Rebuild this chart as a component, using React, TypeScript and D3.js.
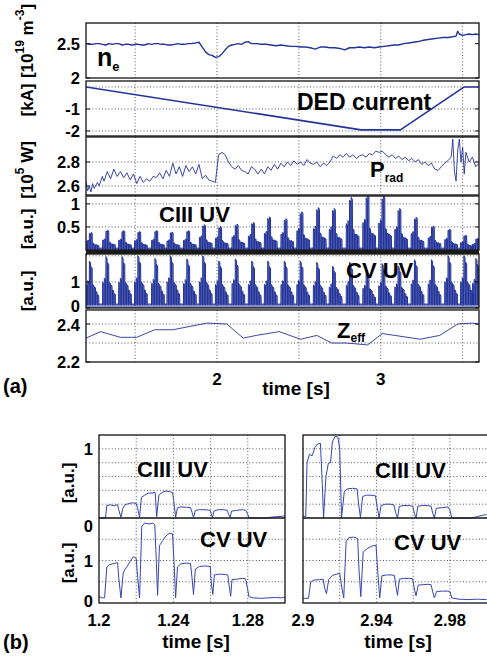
import React from "react"
import * as d3 from "d3"

type Pt = [number, number]

const W = 487
const H = 657
const FONT = "'Liberation Sans', Arial, Helvetica, sans-serif"
const BLUE = "#22339a"
const THIN_BLUE = "#3446b0"
const GRID = "#444"

// ---------- (a) overview 1.2 - 3.6 s
const timeLabels = [2, 3]
const timeGrid = [1.5, 2, 2.5, 3, 3.5]

// line density n_e [10^19 m^-3]
const neData: Pt[] = [
  [1.2, 2.5], [1.22, 2.49], [1.24, 2.49], [1.26, 2.5], [1.28, 2.5], [1.3, 2.49], [1.32, 2.48], [1.34, 2.5],
  [1.36, 2.49], [1.38, 2.5], [1.4, 2.5], [1.42, 2.48], [1.44, 2.49], [1.46, 2.49], [1.48, 2.48], [1.5, 2.49],
  [1.52, 2.49], [1.54, 2.48], [1.56, 2.48], [1.58, 2.5], [1.6, 2.49], [1.62, 2.5], [1.64, 2.5], [1.66, 2.49],
  [1.68, 2.49], [1.7, 2.48], [1.72, 2.48], [1.74, 2.49], [1.76, 2.5], [1.78, 2.49], [1.8, 2.49], [1.82, 2.5],
  [1.84, 2.5], [1.87, 2.51], [1.89, 2.52], [1.91, 2.45], [1.93, 2.38], [1.95, 2.34], [1.97, 2.33], [1.99, 2.3],
  [2.01, 2.31], [2.03, 2.35], [2.05, 2.41], [2.07, 2.46], [2.09, 2.48], [2.11, 2.49], [2.13, 2.5], [2.15, 2.49],
  [2.17, 2.52], [2.19, 2.53], [2.21, 2.5], [2.24, 2.5], [2.27, 2.49], [2.3, 2.49], [2.33, 2.48], [2.36, 2.47],
  [2.39, 2.48], [2.42, 2.47], [2.45, 2.46], [2.48, 2.46], [2.51, 2.45], [2.54, 2.45], [2.57, 2.44], [2.6, 2.42],
  [2.63, 2.45], [2.66, 2.45], [2.69, 2.44], [2.72, 2.44], [2.75, 2.43], [2.78, 2.41], [2.81, 2.44], [2.84, 2.44],
  [2.87, 2.45], [2.9, 2.44], [2.93, 2.45], [2.96, 2.44], [2.99, 2.45], [3.02, 2.46], [3.05, 2.47], [3.08, 2.48],
  [3.11, 2.48], [3.14, 2.5], [3.17, 2.51], [3.2, 2.52], [3.23, 2.53], [3.26, 2.55], [3.29, 2.56], [3.32, 2.57],
  [3.35, 2.58], [3.38, 2.59], [3.41, 2.59], [3.44, 2.6], [3.46, 2.61], [3.47, 2.68], [3.48, 2.64], [3.5, 2.62],
  [3.52, 2.63], [3.54, 2.64], [3.56, 2.63], [3.58, 2.64], [3.6, 2.63],
]

// DED current [kA]
const dedData: Pt[] = [[1.2, 0], [2.88, -1.95], [3.12, -1.95], [3.51, 0], [3.6, 0]]

// radiated power [10^5 W]
const pradData: Pt[] = [
  [1.2, 2.64], [1.21, 2.56], [1.22, 2.6], [1.23, 2.55], [1.24, 2.62], [1.25, 2.58], [1.27, 2.63], [1.28, 2.6],
  [1.3, 2.68], [1.31, 2.64], [1.33, 2.72], [1.35, 2.66], [1.37, 2.74], [1.39, 2.68], [1.41, 2.72], [1.43, 2.67],
  [1.45, 2.71], [1.47, 2.65], [1.49, 2.7], [1.51, 2.62], [1.53, 2.68], [1.55, 2.63], [1.57, 2.66], [1.59, 2.64],
  [1.61, 2.68], [1.63, 2.67], [1.65, 2.71], [1.67, 2.66], [1.69, 2.73], [1.71, 2.68], [1.73, 2.79], [1.75, 2.7],
  [1.77, 2.76], [1.79, 2.68], [1.81, 2.77], [1.83, 2.72], [1.85, 2.76], [1.87, 2.7], [1.89, 2.78], [1.91, 2.66],
  [1.93, 2.69], [1.95, 2.65], [1.97, 2.64], [1.99, 2.63], [2.01, 2.86], [2.03, 2.88], [2.05, 2.86], [2.07, 2.8],
  [2.09, 2.76], [2.11, 2.74], [2.13, 2.77], [2.15, 2.73], [2.17, 2.72], [2.19, 2.7], [2.21, 2.76], [2.23, 2.74],
  [2.25, 2.7], [2.27, 2.74], [2.29, 2.7], [2.31, 2.76], [2.33, 2.73], [2.35, 2.78], [2.37, 2.74], [2.39, 2.79],
  [2.41, 2.76], [2.43, 2.8], [2.45, 2.77], [2.47, 2.81], [2.49, 2.78], [2.51, 2.8], [2.53, 2.77], [2.55, 2.82],
  [2.57, 2.79], [2.59, 2.78], [2.61, 2.8], [2.63, 2.76], [2.65, 2.79], [2.67, 2.77], [2.69, 2.8], [2.71, 2.85],
  [2.73, 2.83], [2.75, 2.86], [2.77, 2.84], [2.79, 2.87], [2.81, 2.84], [2.83, 2.86], [2.85, 2.83], [2.87, 2.85],
  [2.89, 2.86], [2.91, 2.84], [2.93, 2.87], [2.95, 2.86], [2.97, 2.89], [2.99, 2.88], [3.01, 2.89], [3.03, 2.86],
  [3.05, 2.84], [3.07, 2.86], [3.09, 2.83], [3.11, 2.85], [3.13, 2.82], [3.15, 2.84], [3.17, 2.81], [3.19, 2.83],
  [3.21, 2.8], [3.23, 2.82], [3.25, 2.78], [3.27, 2.8], [3.29, 2.77], [3.31, 2.79], [3.33, 2.74], [3.35, 2.73],
  [3.37, 2.76], [3.39, 2.79], [3.41, 2.81], [3.43, 2.84], [3.44, 2.99], [3.45, 2.72], [3.46, 2.64], [3.47, 2.9],
  [3.48, 2.99], [3.49, 2.8], [3.5, 2.92], [3.51, 2.7], [3.52, 2.88], [3.54, 2.8], [3.56, 2.84], [3.58, 2.76],
  [3.6, 2.79],
]

// Z_eff
const zeffData: Pt[] = [
  [1.2, 2.326], [1.29, 2.36], [1.41, 2.33], [1.51, 2.33], [1.62, 2.37], [1.73, 2.37], [1.94, 2.405],
  [2.06, 2.4], [2.16, 2.326], [2.24, 2.34], [2.38, 2.36], [2.51, 2.32], [2.61, 2.34], [2.7, 2.3],
  [2.79, 2.3], [2.92, 2.29], [3.01, 2.35], [3.24, 2.32], [3.36, 2.34], [3.47, 2.4], [3.56, 2.405], [3.6, 2.4],
]

// UV line bursts: time of each burst maximum and its height
const spikeTimes = [
  1.23, 1.331, 1.429, 1.526, 1.63, 1.724, 1.825, 1.922, 2.02, 2.121, 2.221, 2.319, 2.42,
  2.517, 2.618, 2.715, 2.819, 2.92, 3.017, 3.115, 3.215, 3.319, 3.42, 3.517, 3.59,
]
const ciiiPeaks = [
  0.38, 0.43, 0.42, 0.4, 0.42, 0.39, 0.42, 0.55, 0.51, 0.56, 0.6, 0.72, 0.68,
  0.83, 0.92, 0.9, 1.14, 1.19, 1.17, 0.9, 0.71, 0.52, 0.45, 0.32, 0.25,
]
const cvPeaks = [
  1.8, 1.97, 1.97, 2.0, 1.9, 2.0, 1.88, 2.0, 1.8, 1.88, 1.8, 1.8, 1.8,
  1.8, 1.75, 1.6, 1.75, 1.5, 1.7, 1.6, 1.85, 1.85, 2.0, 2.0, 1.9,
]
// relative pulse levels inside one burst (from the zoomed panels b)
const ciiiPulseShape = [0.5, 0.56, 0.95, 1.0, 0.4, 0.31, 0.3, 0.27]
const cvPulseShape = [0.5, 0.58, 1.0, 0.88, 0.5, 0.45, 0.35, 0.28]
const pulsePeriod = 0.01

// ---------- (b) zoomed windows
const zoomLeftLabels = [1.2, 1.24, 1.28]
const zoomLeftGrid = [1.22, 1.24, 1.26, 1.28]
const zoomRightLabels = [2.9, 2.94, 2.98]
const zoomRightGrid = [2.92, 2.94, 2.96, 2.98]

const ciiiLeft: Pt[] = [
  [1.2, 0], [1.2035, 0], [1.2042, 0.18], [1.206, 0.19], [1.208, 0.18], [1.21, 0.19], [1.2106, 0.12], [1.2118, 0.01],
  [1.2128, 0.14], [1.214, 0.19], [1.216, 0.21], [1.218, 0.22], [1.22, 0.21], [1.2208, 0.14], [1.2218, 0.01],
  [1.2228, 0.3], [1.2245, 0.33], [1.2265, 0.36], [1.2285, 0.36], [1.2302, 0.37], [1.231, 0.02], [1.2322, 0.33],
  [1.234, 0.37], [1.236, 0.39], [1.238, 0.38], [1.2395, 0.37], [1.2402, 0.25], [1.2412, 0.01], [1.2422, 0.15],
  [1.244, 0.16], [1.247, 0.155], [1.2492, 0.15], [1.25, 0.08], [1.2508, 0.01], [1.2518, 0.11], [1.254, 0.12],
  [1.257, 0.12], [1.2598, 0.11], [1.2603, 0.06], [1.261, 0.01], [1.2618, 0.1], [1.264, 0.12], [1.267, 0.12],
  [1.269, 0.11], [1.2697, 0.05], [1.2705, 0.01], [1.2713, 0.1], [1.274, 0.11], [1.277, 0.12], [1.279, 0.11],
  [1.28, 0.05], [1.2808, 0], [1.29, 0], [1.292, 0.01], [1.296, 0.02], [1.3, 0.03],
]
const cvLeft: Pt[] = [
  [1.2, 0.15], [1.2015, 0.12], [1.203, 0.12], [1.2042, 0.85], [1.2055, 0.9], [1.208, 0.93], [1.21, 0.95],
  [1.2106, 0.6], [1.2118, 0.12], [1.213, 0.7], [1.2138, 0.78], [1.215, 0.85], [1.217, 1.0], [1.2185, 1.09],
  [1.22, 1.05], [1.2208, 0.6], [1.2218, 0.12], [1.223, 1.8], [1.2245, 1.88], [1.227, 1.86], [1.229, 1.88],
  [1.23, 1.84], [1.2308, 1.0], [1.2315, 0.18], [1.2325, 1.35], [1.234, 1.45], [1.236, 1.58], [1.2378, 1.64],
  [1.2395, 1.63], [1.2403, 1.0], [1.2412, 0.12], [1.2422, 0.85], [1.244, 0.92], [1.247, 0.94], [1.2492, 0.93],
  [1.25, 0.6], [1.2508, 0.2], [1.2518, 0.8], [1.254, 0.86], [1.257, 0.87], [1.2598, 0.86], [1.2603, 0.5],
  [1.2612, 0.2], [1.262, 0.66], [1.265, 0.68], [1.268, 0.67], [1.2692, 0.66], [1.27, 0.4], [1.2708, 0.16],
  [1.2715, 0.55], [1.274, 0.56], [1.277, 0.58], [1.2788, 0.57], [1.2798, 0.35], [1.2806, 0.15], [1.283, 0.12],
  [1.287, 0.11], [1.291, 0.12], [1.295, 0.13], [1.298, 0.12], [1.3, 0.14],
]
const ciiiRight: Pt[] = [
  [2.9, 0.03], [2.9015, 0.02], [2.9022, 0.8], [2.9035, 0.92], [2.905, 0.9], [2.9065, 1.02], [2.908, 1.07],
  [2.9095, 1.08], [2.9105, 0.5], [2.9112, 0], [2.9125, 0.6], [2.9138, 0.79], [2.915, 0.8], [2.916, 1.1],
  [2.9175, 1.18], [2.919, 1.17], [2.92, 1.0], [2.921, 0], [2.9225, 0.38], [2.924, 0.42], [2.927, 0.43],
  [2.9295, 0.42], [2.9303, 0.2], [2.9313, 0.01], [2.9325, 0.31], [2.9345, 0.33], [2.937, 0.33], [2.9395, 0.32],
  [2.9405, 0.15], [2.9415, 0], [2.9425, 0.18], [2.945, 0.2], [2.9475, 0.2], [2.9495, 0.19], [2.9505, 0.08],
  [2.9515, 0], [2.9525, 0.17], [2.955, 0.18], [2.958, 0.18], [2.9598, 0.17], [2.9607, 0.07], [2.9616, 0],
  [2.9626, 0.17], [2.965, 0.18], [2.968, 0.18], [2.9698, 0.17], [2.9707, 0.07], [2.9716, 0], [2.9726, 0.14],
  [2.976, 0.15], [2.979, 0.16], [2.98, 0.12], [2.9811, 0], [2.992, 0], [2.995, 0.02], [2.998, 0.04], [3.0, 0.05],
]
const cvRight: Pt[] = [
  [2.9, 0.11], [2.903, 0.11], [2.9042, 0.5], [2.906, 0.54], [2.909, 0.55], [2.911, 0.56], [2.9118, 0.35],
  [2.9128, 0.22], [2.914, 0.55], [2.916, 0.65], [2.9185, 0.68], [2.92, 0.7], [2.921, 0.4], [2.9222, 0.12],
  [2.9235, 1.45], [2.925, 1.54], [2.9275, 1.55], [2.9298, 1.52], [2.9305, 0.8], [2.9315, 0.15], [2.9328, 1.2],
  [2.935, 1.28], [2.9375, 1.34], [2.9398, 1.36], [2.9408, 0.7], [2.9418, 0.12], [2.943, 0.64], [2.9455, 0.66],
  [2.948, 0.66], [2.9498, 0.65], [2.9506, 0.4], [2.9515, 0.18], [2.9525, 0.56], [2.955, 0.58], [2.958, 0.58],
  [2.9598, 0.57], [2.9606, 0.35], [2.9616, 0.17], [2.9628, 0.42], [2.965, 0.43], [2.968, 0.44], [2.9698, 0.43],
  [2.9706, 0.28], [2.9716, 0.12], [2.9728, 0.27], [2.976, 0.28], [2.979, 0.28], [2.9802, 0.26], [2.981, 0.12],
  [2.985, 0.09], [2.99, 0.08], [2.995, 0.09], [3.0, 0.08],
]

// build the modulated burst train of the UV lines
function pulseTrain(peaks: number[], shape: number[], gap: number, rest: number): Pt[] {
  const pts: Pt[] = [[1.19, rest]]
  spikeTimes.forEach((tp, i) => {
    const s = tp - 0.03
    pts.push([s, rest])
    shape.forEach((f, k) => {
      const a = s + k * pulsePeriod
      const v = peaks[i] * f
      pts.push([a, gap], [a + 0.0008, v], [a + 0.0078, v * 0.96], [a + 0.0088, gap])
    })
    pts.push([s + shape.length * pulsePeriod, rest])
  })
  return pts
}

const xA = d3.scaleLinear().domain([1.2, 3.6]).range([86, 479])

const panelsA = [
  { id: "ne", y0: 23, y1: 78, domain: [2, 2.8], ticks: [2, 2.5], grid: [], data: neData, sw: 1.4, fill: false },
  { id: "ded", y0: 81, y1: 136, domain: [-2.23, 0.27], ticks: [-1, -2], grid: [0, -1, -2], data: dedData, sw: 1.6, fill: false },
  { id: "prad", y0: 137, y1: 195, domain: [2.525, 3.008], ticks: [2.6, 2.8], grid: [2.6, 2.8], data: pradData, sw: 0.9, fill: false },
  { id: "ciii", y0: 196, y1: 250, domain: [0, 1.17], ticks: [0.5, 1], grid: [0.5, 1], data: pulseTrain(ciiiPeaks, ciiiPulseShape, 0.01, 0.04), sw: 1, fill: true },
  { id: "cv", y0: 254, y1: 308, domain: [0, 2.07], ticks: [0, 1], grid: [1, 2], data: pulseTrain(cvPeaks, cvPulseShape, 0.12, 0.15), sw: 1, fill: true },
  { id: "zeff", y0: 310, y1: 362, domain: [2.2, 2.474], ticks: [2.2, 2.4], grid: [2.3, 2.4], data: zeffData, sw: 0.9, fill: false },
]
// small vertical nudges of crowded tick labels
const tickNudge: Record<string, number> = { "cv0": -2, "zeff2.4": 1 }

const yCiiiB = d3.scaleLinear().domain([0, 1.2]).range([518, 435])
const yCvB = d3.scaleLinear().domain([0, 2]).range([603, 518])
const zoomPanels = [
  { id: "L", x: d3.scaleLinear().domain([1.2, 1.3]).range([99, 285]), labels: zoomLeftLabels, grid: zoomLeftGrid, ciii: ciiiLeft, cv: cvLeft, right: 285 },
  { id: "R", x: d3.scaleLinear().domain([2.9, 3.0]).range([303, 486.5]), labels: zoomRightLabels, grid: zoomRightGrid, ciii: ciiiRight, cv: cvRight, right: 495 },
]
const ciiiGridB = [0.2, 0.4, 0.6, 0.8, 1.0]
const cvGridB = [0.5, 1, 1.5]

const VLabel = ({ x, y, children, size = 17 }: any) => (
  <text transform={`translate(${x},${y}) rotate(-90)`} textAnchor="middle" dominantBaseline="central"
    fontSize={size} fontWeight="bold">{children}</text>
)

export default function App() {
  const [x0, x1] = xA.range()
  return (
    <svg width={W} height={H} style={{ position: "absolute", left: 0, top: 0, background: "#fff" }}
      fontFamily={FONT}>
      <defs>
        {panelsA.map(p => (
          <clipPath key={p.id} id={`clip-${p.id}`}>
            <rect x={x0} y={p.y0} width={x1 - x0} height={p.y1 - p.y0} />
          </clipPath>
        ))}
        {zoomPanels.map(z => (
          <clipPath key={z.id} id={`clipz-${z.id}`}>
            <rect x={z.x.range()[0]} y={435} width={z.right - z.x.range()[0]} height={168} />
          </clipPath>
        ))}
      </defs>

      {/* ---------- (a) ---------- */}
      {panelsA.map(p => {
        const y = d3.scaleLinear().domain(p.domain).range([p.y1, p.y0])
        const line = d3.line<Pt>().x(d => xA(d[0])).y(d => y(d[1]))
        const area = d3.area<Pt>().x(d => xA(d[0])).y0(y(0)).y1(d => y(d[1]))
        return (
          <g key={p.id}>
            {timeGrid.map(t => (
              <line key={t} x1={xA(t)} x2={xA(t)} y1={p.y0} y2={p.y1} stroke={GRID} strokeWidth={0.9} strokeDasharray="1 2.2" />
            ))}
            {p.grid.map(v => (
              <line key={v} x1={x0} x2={x1} y1={y(v)} y2={y(v)} stroke={GRID} strokeWidth={0.9} strokeDasharray="1 2.2" />
            ))}
            <g clipPath={`url(#clip-${p.id})`}>
              {p.fill && <path d={area(p.data) || ""} fill={BLUE} fillOpacity={0.55} />}
              <path d={line(p.data) || ""} fill="none" stroke={BLUE} strokeWidth={p.sw} strokeLinejoin="round" />
            </g>
            <rect x={x0} y={p.y0} width={x1 - x0} height={p.y1 - p.y0} fill="none" stroke="#111" strokeWidth={1.3} />
            {p.ticks.map(v => (
              <g key={v}>
                <line x1={x0} x2={x0 + 4} y1={y(v)} y2={y(v)} stroke="#111" />
                <line x1={x1} x2={x1 - 4} y1={y(v)} y2={y(v)} stroke="#111" />
                <text x={80} y={y(v) + (tickNudge[p.id + v] || 0)} textAnchor="end" dominantBaseline="central"
                  fontSize={16.5} fontWeight="bold">{String(v)}</text>
              </g>
            ))}
          </g>
        )
      })}
      <rect x={x0} y={250} width={x1 - x0} height={4} fill="#1a1a1a" />

      {timeLabels.map(t => (
        <text key={t} x={xA(t)} y={385} textAnchor="middle" fontSize={17} fontWeight="bold">{t}</text>
      ))}
      <text x={296} y={395} textAnchor="middle" fontSize={19} fontWeight="bold">time [s]</text>
      <text x={3} y={393} fontSize={20} fontWeight="bold">(a)</text>

      {/* panel names */}
      <text x={97} y={66} fontSize={25} fontWeight="bold">n<tspan fontSize={13} dy={5}>e</tspan></text>
      <text x={297} y={110} fontSize={23} fontWeight="bold">DED current</text>
      <text x={370} y={177} fontSize={22} fontWeight="bold">P<tspan fontSize={12} dy={5}>rad</tspan></text>
      <text x={159} y={222} fontSize={22} fontWeight="bold">CIII UV</text>
      <text x={346} y={278} fontSize={22} fontWeight="bold">CV UV</text>
      <text x={337} y={338} fontSize={22} fontWeight="bold">Z<tspan fontSize={12} dy={4}>eff</tspan></text>

      {/* units */}
      <VLabel x={27} y={41}>[10<tspan fontSize={12} dy={-7}>19</tspan><tspan dy={7}> m</tspan><tspan fontSize={12} dy={-7}>-3</tspan><tspan dy={7}>]</tspan></VLabel>
      <VLabel x={27} y={100}>[kA]</VLabel>
      <VLabel x={27} y={170}>[10<tspan fontSize={12} dy={-7}>5</tspan><tspan dy={7}> W]</tspan></VLabel>
      <VLabel x={27} y={229}>[a.u.]</VLabel>
      <VLabel x={27} y={291}>[a.u.]</VLabel>

      {/* ---------- (b) ---------- */}
      {zoomPanels.map(z => {
        const [zx0] = z.x.range()
        const zx1 = z.right
        const lineC = d3.line<Pt>().x(d => z.x(d[0])).y(d => yCiiiB(d[1]))
        const lineV = d3.line<Pt>().x(d => z.x(d[0])).y(d => yCvB(d[1]))
        return (
          <g key={z.id}>
            {z.grid.map(t => (
              <line key={t} x1={z.x(t)} x2={z.x(t)} y1={435} y2={603} stroke={GRID} strokeWidth={0.9} strokeDasharray="1 2.2" />
            ))}
            {ciiiGridB.map(v => (
              <line key={v} x1={zx0} x2={zx1} y1={yCiiiB(v)} y2={yCiiiB(v)} stroke={GRID} strokeWidth={0.9} strokeDasharray="1 2.2" />
            ))}
            {cvGridB.map(v => (
              <line key={v} x1={zx0} x2={zx1} y1={yCvB(v)} y2={yCvB(v)} stroke={GRID} strokeWidth={0.9} strokeDasharray="1 2.2" />
            ))}
            <g clipPath={`url(#clipz-${z.id})`}>
              <path d={lineC(z.ciii) || ""} fill="none" stroke={THIN_BLUE} strokeWidth={1} />
              <path d={lineV(z.cv) || ""} fill="none" stroke={THIN_BLUE} strokeWidth={1} />
            </g>
            <rect x={zx0} y={435} width={zx1 - zx0} height={168} fill="none" stroke="#111" strokeWidth={1.3} />
            <line x1={zx0} x2={zx1} y1={518} y2={518} stroke="#111" strokeWidth={1.3} />
            {z.labels.map(t => (
              <text key={t} x={z.x(t)} y={626} textAnchor="middle" fontSize={16.5} fontWeight="bold">{String(t)}</text>
            ))}
          </g>
        )
      })}

      <text x={93} y={yCiiiB(1)} textAnchor="end" dominantBaseline="central" fontSize={16.5} fontWeight="bold">1</text>
      <text x={93} y={yCiiiB(0) + 8} textAnchor="end" dominantBaseline="central" fontSize={16.5} fontWeight="bold">0</text>
      <text x={93} y={yCvB(1)} textAnchor="end" dominantBaseline="central" fontSize={16.5} fontWeight="bold">1</text>
      <text x={93} y={yCvB(0) - 2} textAnchor="end" dominantBaseline="central" fontSize={16.5} fontWeight="bold">0</text>
      <VLabel x={68} y={483}>[a.u.]</VLabel>
      <VLabel x={68} y={563}>[a.u.]</VLabel>

      <text x={137} y={477} fontSize={22} fontWeight="bold">CIII UV</text>
      <text x={200} y={547} fontSize={22} fontWeight="bold">CV UV</text>
      <text x={375} y={478} fontSize={22} fontWeight="bold">CIII UV</text>
      <text x={394} y={550} fontSize={22} fontWeight="bold">CV UV</text>

      <text x={196} y={648} textAnchor="middle" fontSize={19} fontWeight="bold">time  [s]</text>
      <text x={398} y={648} textAnchor="middle" fontSize={19} fontWeight="bold">time [s]</text>
      <text x={3} y={649} fontSize={20} fontWeight="bold">(b)</text>
    </svg>
  )
}
